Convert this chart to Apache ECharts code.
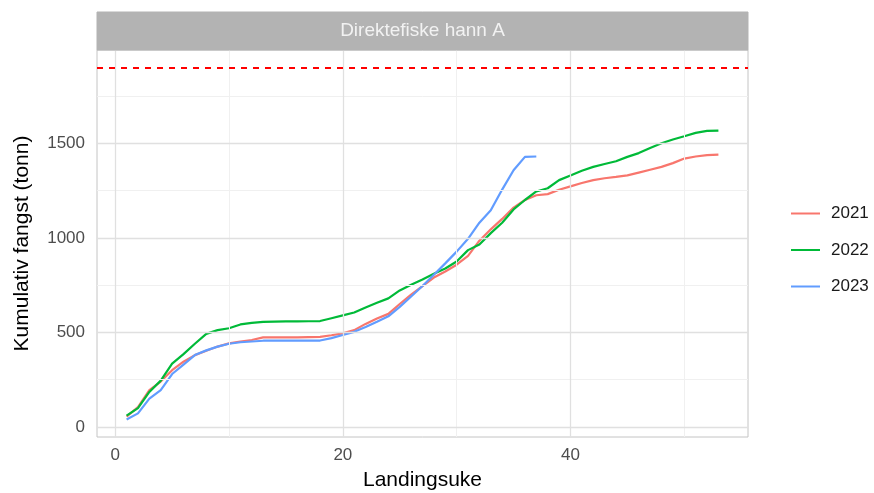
<!DOCTYPE html>
<html>
<head>
<meta charset="utf-8">
<script src="https://cdn.jsdelivr.net/npm/echarts@6/dist/echarts.min.js"></script>
<style>
html,body{margin:0;padding:0;background:#fff;}
#chart{width:874px;height:493px;}
</style>
</head>
<body>
<div id="chart"></div>
<script>
const weeks = Array.from({length: 53}, (_, i) => i + 1);
const series2021 = [55,105,195,240,300,345,380,403,425,442,452,460,474,474,474,474,475,476,485,495,512,545,574,598,650,700,745,790,822,858,905,985,1045,1100,1160,1200,1225,1231,1254,1272,1290,1305,1315,1322,1330,1345,1360,1375,1395,1419,1430,1437,1440];
const series2022 = [60,100,185,245,335,385,440,492,512,522,542,550,556,557,558,558,559,560,575,590,605,632,657,680,722,752,780,810,838,875,935,965,1025,1080,1150,1200,1245,1262,1305,1330,1355,1375,1390,1405,1428,1448,1475,1500,1520,1537,1555,1565,1567];
const series2023 = [40,72,150,195,280,330,380,405,425,440,448,452,456,456,456,456,456,457,470,486,503,528,556,585,635,690,745,805,865,927,995,1080,1146,1255,1357,1428,1430];
const seriesNames = ['2021','2022','2023'];
const seriesColors = ['#F8766D','#00BA38','#619CFF'];
const quota = 1900;
const xTicks = [0,20,40];
const xMinor = [10,30,50];
const yTicks = [0,500,1000,1500];
const yMinor = [250,750,1250,1750];
const panelTitle = 'Direktefiske hann A';
const xTitle = 'Landingsuke';
const yTitle = 'Kumulativ fangst (tonn)';

const chart = echarts.init(document.getElementById('chart'), null, {renderer: 'canvas'});
const font = 'Liberation Sans, Arial, sans-serif';
const pair = (arr) => arr.map((v, i) => [weeks[i], v]);
const allData = [series2021, series2022, series2023];

const gridLines = [];
xMinor.forEach(v => gridLines.push({xAxis: v, lineStyle: {color: '#f0f0f0', width: 1, type: 'solid'}}));
yMinor.forEach(v => gridLines.push({yAxis: v, lineStyle: {color: '#f0f0f0', width: 1, type: 'solid'}}));
xTicks.forEach(v => gridLines.push({xAxis: v, lineStyle: {color: '#e0e0e0', width: 1.3, type: 'solid'}}));
yTicks.forEach(v => gridLines.push({yAxis: v, lineStyle: {color: '#e0e0e0', width: 1.3, type: 'solid'}}));

const series = [{
  name: 'grid', type: 'line', data: [], z: 1, silent: true,
  markLine: {silent: true, symbol: 'none', label: {show: false}, animation: false, data: gridLines}
}];
allData.forEach((d, i) => {
  series.push({
    name: seriesNames[i], type: 'line', data: pair(d), symbol: 'none', showSymbol: false,
    lineStyle: {color: seriesColors[i], width: 2.2}, itemStyle: {color: seriesColors[i]}, z: 3, animation: false
  });
});
series.push({
  name: 'quota', type: 'line', data: [], z: 4, silent: true,
  markLine: {silent: true, symbol: 'none', label: {show: false}, animation: false,
    data: [{yAxis: quota, lineStyle: {color: '#FF0000', width: 2, type: [6, 6]}}]}
});

chart.setOption({
  animation: false,
  backgroundColor: '#ffffff',
  textStyle: {fontFamily: font},
  grid: {left: 97, right: 126, top: 50, bottom: 56, show: true, borderColor: '#c4c4c4', borderWidth: 1, containLabel: false, outerBoundsMode: 'none'},
  xAxis: {
    type: 'value', min: -1.6, max: 55.6,
    name: xTitle, nameLocation: 'middle', nameGap: 33,
    nameTextStyle: {fontSize: 21, color: '#000', fontFamily: font},
    axisLine: {show: false},
    axisTick: {show: true, length: 4, customValues: xTicks, lineStyle: {color: '#b3b3b3', width: 1}},
    axisLabel: {customValues: xTicks, fontSize: 17, color: '#4d4d4d', margin: 10, fontFamily: font, formatter: v => String(v)},
    splitLine: {show: false}
  },
  yAxis: {
    type: 'value', min: -53, max: 1993,
    name: yTitle, nameLocation: 'middle', nameGap: 64, nameRotate: 90,
    nameTextStyle: {fontSize: 21, color: '#000', fontFamily: font},
    axisLine: {show: false},
    axisTick: {show: true, length: 4, customValues: yTicks, lineStyle: {color: '#b3b3b3', width: 1}},
    axisLabel: {customValues: yTicks, fontSize: 17, color: '#4d4d4d', margin: 12, fontFamily: font, formatter: v => String(v)},
    splitLine: {show: false}
  },
  legend: {
    data: seriesNames, orient: 'vertical', left: 786, top: 200,
    itemWidth: 29, itemHeight: 14, itemGap: 19.5,
    icon: 'path://M0,6 L29,6 L29,8 L0,8 Z',
    textStyle: {fontSize: 17, color: '#1a1a1a', fontFamily: font, padding: [0,0,0,6]},
    selectedMode: false
  },
  graphic: [
    {type: 'rect', shape: {x: 97, y: 12, width: 651, height: 38}, style: {fill: '#b3b3b3', stroke: '#b3b3b3'}, z: 10},
    {type: 'text', x: 422.5, y: 31, style: {text: panelTitle, fill: '#f2f2f2', fontSize: 19, fontFamily: font, textAlign: 'center', textVerticalAlign: 'middle'}, z: 11}
  ],
  series: series
});
</script>
</body>
</html>
